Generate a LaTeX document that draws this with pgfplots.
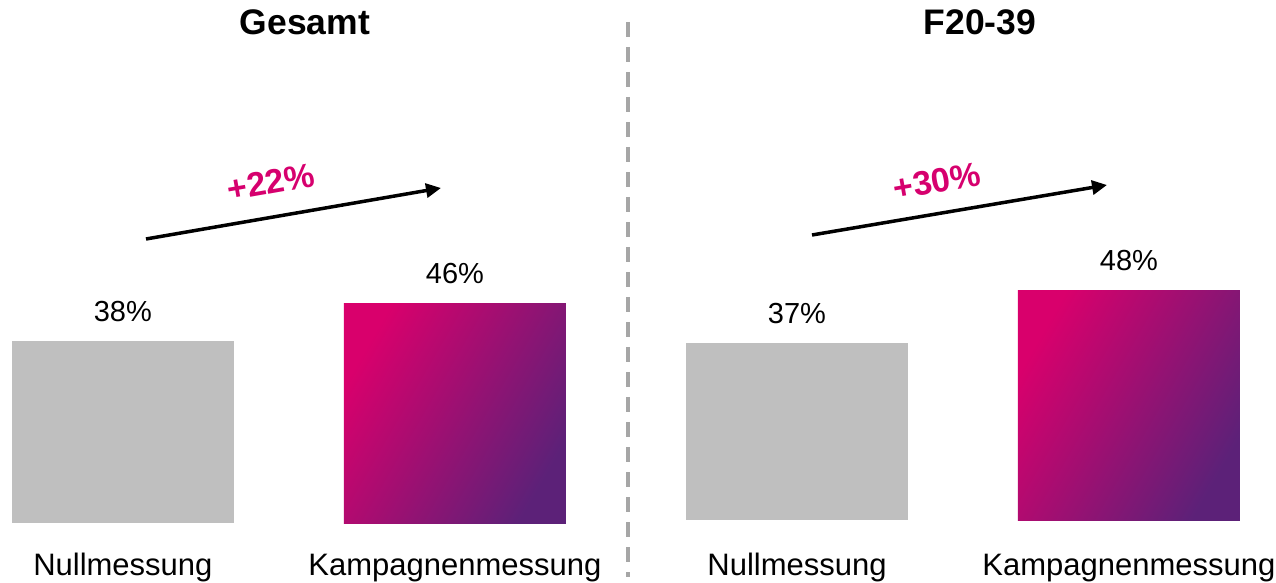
\documentclass[border=0pt]{standalone}
\usepackage{pgfplots}
\pgfplotsset{compat=1.18}
\usepackage{fontspec}
\setmainfont{Liberation Sans}
\usetikzlibrary{arrows.meta}

\definecolor{nullgray}{HTML}{BFBFBF}
\definecolor{magstart}{HTML}{D9006C}
\definecolor{purpend}{HTML}{5C2178}
\definecolor{accent}{HTML}{D6006E}
\definecolor{sepgray}{HTML}{A6A6A6}

\pgfplotsset{
  panel/.style={
    scale only axis,
    height=191.2pt,
    ymin=0, ymax=100,
    axis y line=none,
    axis x line*=bottom,
    x axis line style={draw=none},
    major tick length=0pt,
    xtick={0,1},
    xticklabels={Nullmessung,Kampagnenmessung},
    xticklabel style={font=\fontsize{12.4}{14}\selectfont, anchor=base},
    /pgf/number format/assume math mode=true,
    nodes near coords={\pgfmathprintnumber{\pgfplotspointmeta}\%},
    every node near coord/.append style={font=\fontsize{11.6}{13}\selectfont, anchor=base, yshift=8pt},
    clip=false,
  },
  nullbar/.style={ybar, bar width=88.8pt, bar shift=0pt, draw=none, fill=nullgray},
  kampbar/.style={ybar, bar width=88.8pt, bar shift=0pt, draw=none,
    top color=magstart, bottom color=purpend, shading angle=60},
}

\begin{document}
\begin{tikzpicture}
\useasboundingbox (0pt,-23.6pt) rectangle (510.4pt,209.2pt);

% Gesamt
\begin{axis}[panel, at={(0pt,0pt)}, anchor=south west,
  width=248.4pt, xmin=-0.37, xmax=1.5,
  xticklabel style={yshift=-20.8pt}]
  \addplot[nullbar] coordinates {(0,38)};
  \addplot[kampbar] coordinates {(1,46)};
\end{axis}

% F20-39
\begin{axis}[panel, at={(254.4pt,1.2pt)}, anchor=south west,
  width=256pt, xmin=-0.485, xmax=1.443,
  xticklabel style={yshift=-22pt}]
  \addplot[nullbar] coordinates {(0,37)};
  \addplot[kampbar] coordinates {(1,48)};
\end{axis}

% titles
\node[font=\bfseries\fontsize{14.2}{16}\selectfont, anchor=base] at (122pt,195.2pt) {Gesamt};
\node[font=\bfseries\fontsize{14.2}{16}\selectfont, anchor=base] at (392pt,195.2pt) {F20-39};

% separator
\draw[sepgray, line width=1.6pt, dash pattern=on 6pt off 4pt] (251.2pt,200.4pt) -- (251.2pt,-21.6pt);

% change arrows
\draw[line width=1.4pt, -{Triangle[length=6pt,width=5.6pt]}] (58.4pt,113.6pt) -- (176.4pt,134pt);
\node[accent, font=\bfseries\fontsize{13.6}{15}\selectfont, rotate=10] at (108.4pt,136.4pt) {+22\%};
\draw[line width=1.4pt, -{Triangle[length=6pt,width=5.6pt]}] (324.8pt,115.2pt) -- (442.8pt,135.2pt);
\node[accent, font=\bfseries\fontsize{13.6}{15}\selectfont, rotate=10] at (374.8pt,136.8pt) {+30\%};
\end{tikzpicture}
\end{document}
